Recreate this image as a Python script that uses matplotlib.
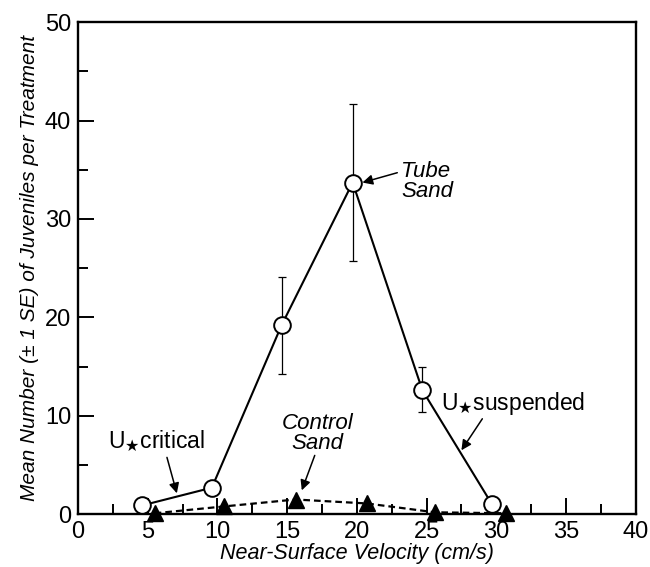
import matplotlib
matplotlib.use("Agg")
import matplotlib.pyplot as plt
from matplotlib.ticker import MultipleLocator

# Data
tube_x = [4.6, 9.6, 14.6, 19.7, 24.7, 29.7]
tube_y = [0.9, 2.7, 19.2, 33.7, 12.6, 1.0]
tube_err_lo = [0.0, 0.0, 4.9, 8.0, 2.2, 0.0]
tube_err_hi = [0.0, 0.0, 4.9, 8.0, 2.4, 0.0]

ctrl_x = [5.5, 10.5, 15.6, 20.7, 25.6, 30.7]
ctrl_y = [0.1, 0.8, 1.5, 1.1, 0.2, 0.1]

xticks = [0, 5, 10, 15, 20, 25, 30, 35, 40]
yticks = [0, 10, 20, 30, 40, 50]

plt.rcParams['font.family'] = ['Liberation Sans', 'DejaVu Sans']
plt.rcParams['mathtext.fontset'] = 'dejavusans'

fig = plt.figure(figsize=(6.5, 5.67), dpi=100)
ax = fig.add_axes([0.12, 0.093, 0.858, 0.868])

# Tube sand: error bars (thin) then line + markers
idx = [i for i in range(len(tube_x)) if tube_err_lo[i] > 0]
ax.errorbar([tube_x[i] for i in idx], [tube_y[i] for i in idx],
            yerr=[[tube_err_lo[i] for i in idx], [tube_err_hi[i] for i in idx]],
            fmt='none', ecolor='black', elinewidth=0.9, capsize=3, capthick=0.9, zorder=2)
ax.plot(tube_x, tube_y, '-', color='black', lw=1.5, zorder=3)
ax.plot(tube_x, tube_y, 'o', ms=12, mfc='white', mec='black', mew=1.4, zorder=5, clip_on=False)

# Control sand
ax.plot(ctrl_x, ctrl_y, '--', color='black', lw=1.6, dashes=(3, 1.8), zorder=3)
ax.plot(ctrl_x, ctrl_y, '^', ms=11, color='black', zorder=5, clip_on=False)

ax.set_xlim(0, 40)
ax.set_ylim(0, 50)
ax.set_xticks(xticks)
ax.set_yticks(yticks)
ax.xaxis.set_minor_locator(MultipleLocator(2.5))
ax.yaxis.set_minor_locator(MultipleLocator(5))
ax.tick_params(which='major', direction='in', length=11.5, width=1.4, labelsize=17,
               top=False, right=False, pad=5)
ax.tick_params(which='minor', direction='in', length=7.5, width=1.4, top=False, right=False)
for s in ax.spines.values():
    s.set_linewidth(1.7)

ax.set_xlabel('Near-Surface Velocity (cm/s)', fontsize=15.5, style='italic', labelpad=0)
ax.set_ylabel('Mean Number (\u00b1 1 SE) of Juveniles per Treatment', fontsize=15,
              style='italic', labelpad=4)

arrow = dict(arrowstyle='-|>', lw=1.1, color='black', mutation_scale=15,
             shrinkA=0, shrinkB=0)

ax.text(5.66, 7.4, r'U$_{\bigstar}$critical', fontsize=16.5, ha='center', va='center')
ax.annotate('', xy=(7.09, 2.13), xytext=(6.38, 5.78), arrowprops=arrow)

ax.text(17.2, 8.2, 'Control\nSand', fontsize=16, style='italic', ha='center',
        va='center', linespacing=0.95)
ax.annotate('', xy=(16.05, 2.43), xytext=(16.98, 5.98), arrowprops=arrow)

ax.text(23.2, 33.8, 'Tube\nSand', fontsize=16, style='italic', ha='left',
        va='center', linespacing=0.95)
ax.annotate('', xy=(20.4, 33.7), xytext=(22.9, 34.7), arrowprops=arrow)

ax.text(31.2, 11.3, r'U$_{\bigstar}$suspended', fontsize=16.5, ha='center', va='center')
ax.annotate('', xy=(27.5, 6.5), xytext=(29.0, 9.7), arrowprops=arrow)

fig.savefig('out.png', dpi=100)
